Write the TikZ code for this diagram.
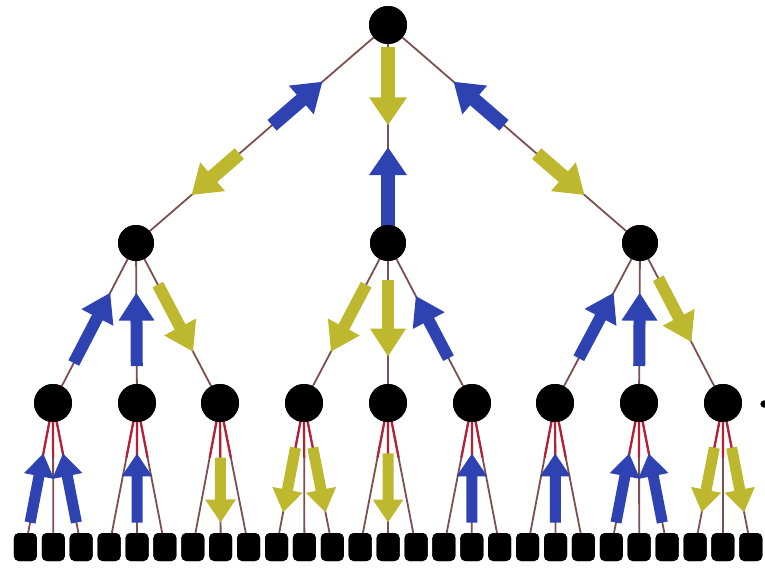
\documentclass[tikz,border=0pt]{standalone}
\usetikzlibrary{arrows.meta,calc}
\definecolor{ablue}{RGB}{46,66,178}
\definecolor{ayel}{RGB}{190,184,46}
\definecolor{edgec}{RGB}{125,80,80}
\definecolor{redc}{RGB}{185,30,55}
\newcommand\myarr[5]{\draw[#1] ($(#2)!#4!(#3)$) -- ($(#2)!#5!(#3)$);}
\begin{document}
\begin{tikzpicture}[x=1pt,y=-1pt,
  dot/.style={circle,fill=black,inner sep=0pt,minimum size=#1},
  leaf/.style={rectangle,rounded corners=5pt,fill=black,inner sep=0pt,minimum width=23pt,minimum height=28pt},
  link/.style={draw=edgec,line width=1.8pt},
  redlink/.style={draw=redc,line width=2.2pt},
  bigup/.style={line width=14pt,color=ablue,-{Triangle[width=36pt,length=28pt]}},
  bigdown/.style={line width=14pt,color=ayel,-{Triangle[width=36pt,length=28pt]}},
  midup/.style={line width=12pt,color=ablue,-{Triangle[width=34pt,length=28pt]}},
  middown/.style={line width=12pt,color=ayel,-{Triangle[width=34pt,length=28pt]}},
  smallup/.style={line width=11pt,color=ablue,-{Triangle[width=29pt,length=23pt]}},
  smalldown/.style={line width=11pt,color=ayel,-{Triangle[width=29pt,length=23pt]}}
]
\useasboundingbox (0,0) rectangle (765,568);
\fill[white] (0,0) rectangle (765,568);

% nodes (coordinates first, drawn later on top)
\node[dot=38pt] (r) at (388,25) {};
\node[dot=36pt] (a) at (136,243) {};
\node[dot=36pt] (b) at (388,243) {};
\node[dot=36pt] (c) at (640,243) {};
\foreach \x [count=\i] in {53,137,220,304,388,472,555,639,723}
  \node[dot=38pt] (m\i) at (\x,403) {};
\foreach \i in {0,...,26}
  \node[leaf] (f\i) at ({25.4+27.9*\i},547) {};
\node[dot=7pt] (z) at (764,404) {};

% edges
\begin{scope}[on background layer/.style={}]
\foreach \p in {a,b,c} \draw[link] (r.center) -- (\p.center);
\draw[link] (a.center) -- (m1.center);
\draw[link] (a.center) -- (m2.center);
\draw[link] (a.center) -- (m3.center);
\draw[link] (b.center) -- (m4.center);
\draw[link] (b.center) -- (m5.center);
\draw[link] (b.center) -- (m6.center);
\draw[link] (c.center) -- (m7.center);
\draw[link] (c.center) -- (m8.center);
\draw[link] (c.center) -- (m9.center);
\foreach \k in {1,...,9}
  \foreach \j in {0,1,2} {
    \pgfmathtruncatemacro\lf{3*(\k-1)+\j}
    \draw[link] (m\k.center) -- (f\lf.center);
    \draw[redlink] (m\k.center) -- ($(m\k)!0.38!(f\lf)$);
  }
\end{scope}

% arrows level 0-1
\myarr{bigup}{r}{a}{0.46}{0.26}
\myarr{bigdown}{r}{a}{0.59}{0.78}
\myarr{bigdown}{r}{b}{0.10}{0.46}
\myarr{bigup}{r}{b}{0.93}{0.56}
\myarr{bigup}{r}{c}{0.46}{0.26}
\myarr{bigdown}{r}{c}{0.59}{0.78}

% arrows level 1-2
\myarr{midup}{a}{m1}{0.75}{0.31}
\myarr{midup}{a}{m2}{0.77}{0.31}
\myarr{middown}{a}{m3}{0.26}{0.68}
\myarr{middown}{b}{m4}{0.26}{0.68}
\myarr{middown}{b}{m5}{0.23}{0.71}
\myarr{midup}{b}{m6}{0.72}{0.33}
\myarr{midup}{c}{m7}{0.72}{0.31}
\myarr{midup}{c}{m8}{0.77}{0.31}
\myarr{middown}{c}{m9}{0.22}{0.62}

% arrows level 2-3
\myarr{smallup}{m1}{f0}{0.83}{0.35}
\myarr{smallup}{m1}{f2}{0.83}{0.35}
\myarr{smallup}{m2}{f4}{0.83}{0.35}
\myarr{smalldown}{m3}{f7}{0.38}{0.83}
\myarr{smalldown}{m4}{f9}{0.31}{0.76}
\myarr{smalldown}{m4}{f11}{0.31}{0.76}
\myarr{smalldown}{m5}{f13}{0.35}{0.83}
\myarr{smallup}{m6}{f16}{0.83}{0.35}
\myarr{smallup}{m7}{f19}{0.83}{0.35}
\myarr{smallup}{m8}{f21}{0.83}{0.35}
\myarr{smallup}{m8}{f23}{0.83}{0.35}
\myarr{smalldown}{m9}{f24}{0.31}{0.76}
\myarr{smalldown}{m9}{f26}{0.31}{0.76}

% redraw nodes on top
\fill (r) circle (19);
\foreach \p in {a,b,c} \fill (\p) circle (18);
\foreach \i in {1,...,9} \fill (m\i) circle (19);
\foreach \i in {0,...,26}
  \fill[rounded corners=5pt] ($(f\i)+(-11.5,-14)$) rectangle ($(f\i)+(11.5,14)$);
\fill (z) circle (3.5);
\end{tikzpicture}
\end{document}
